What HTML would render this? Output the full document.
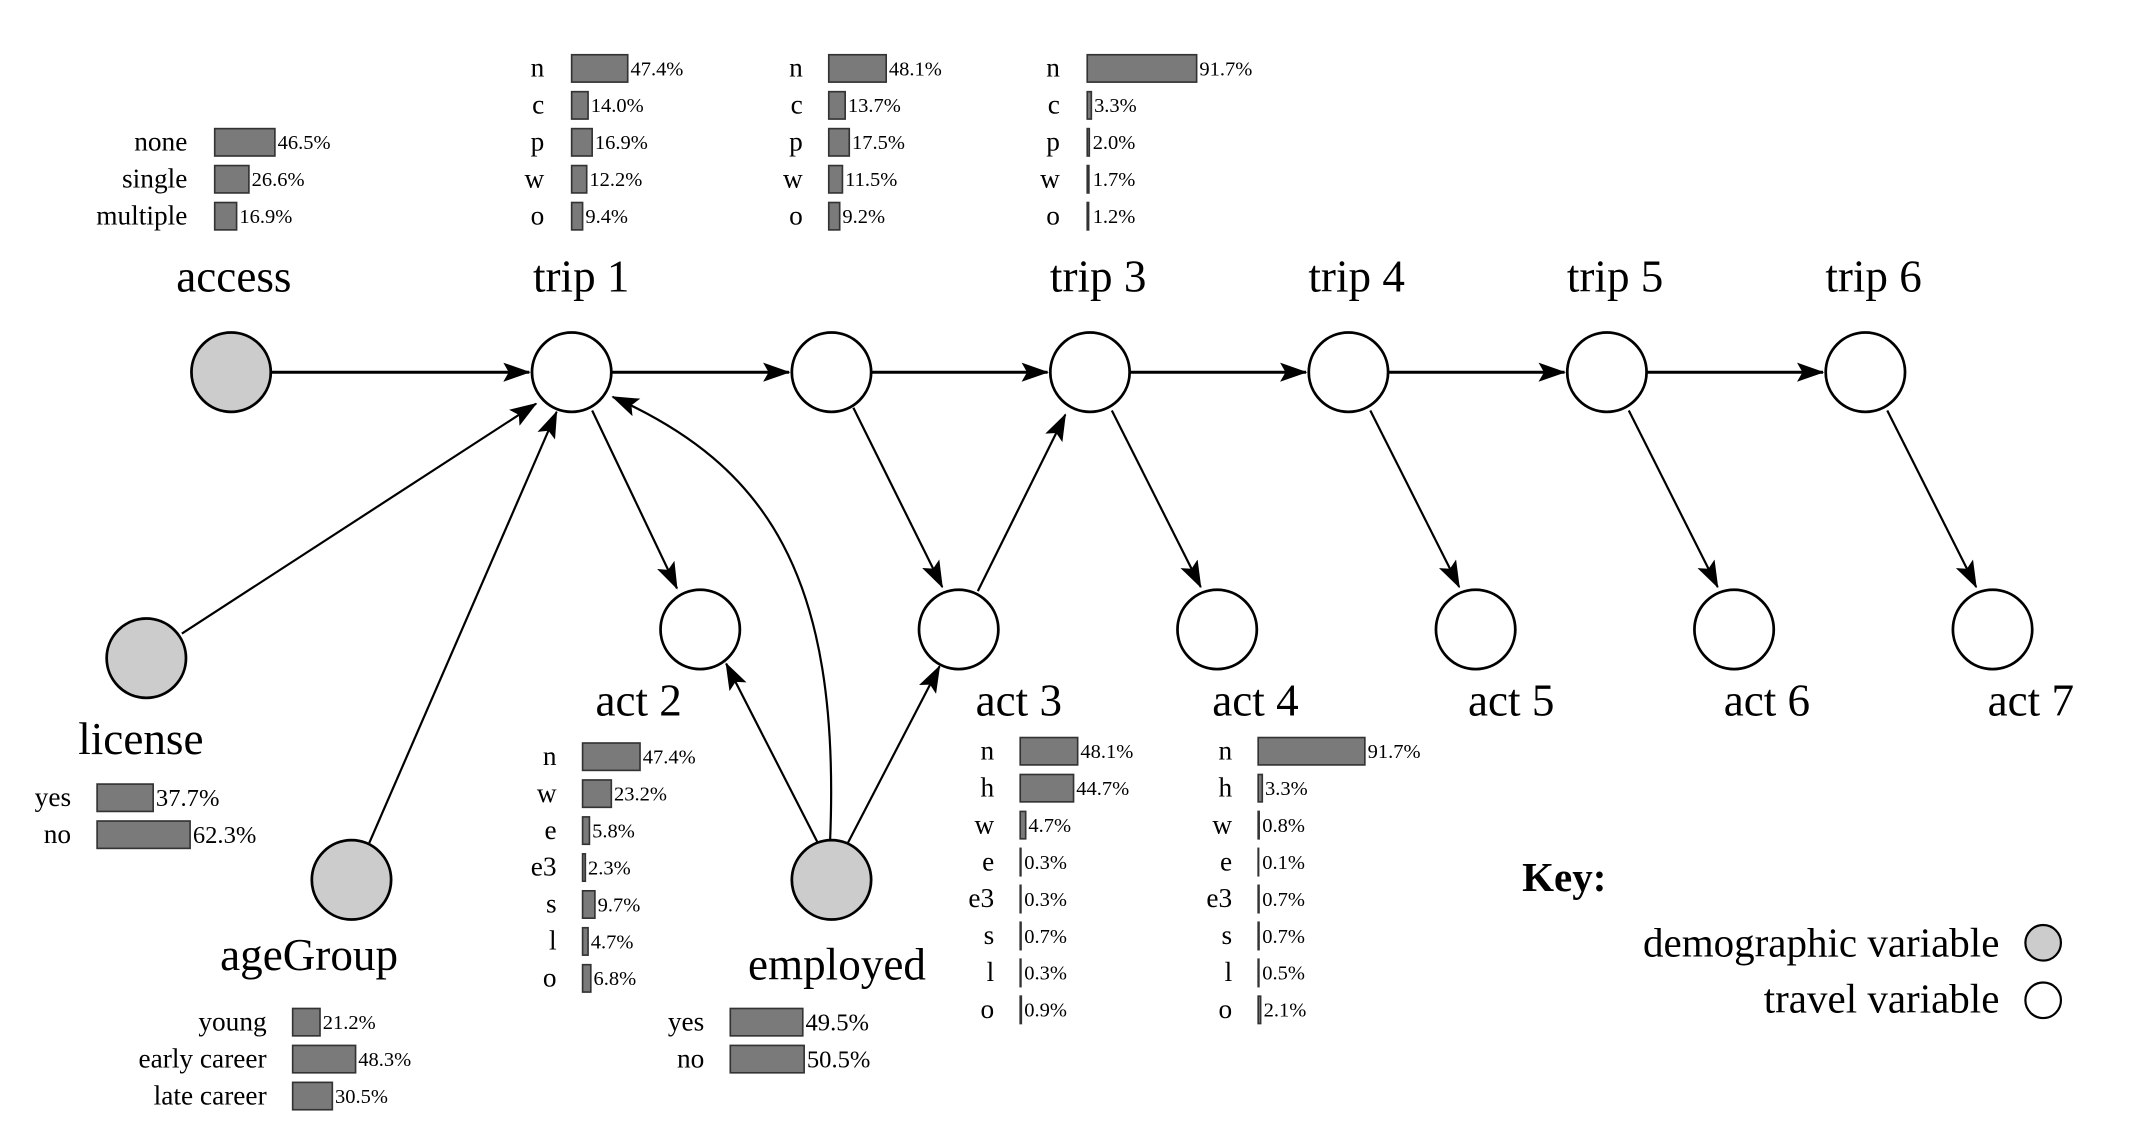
<!DOCTYPE html>
<html><head><meta charset="utf-8"><style>
html,body{margin:0;padding:0;background:#fff;}
svg{display:block;}
text{font-family:"Liberation Serif",serif;fill:#000;}
.c{font-size:20px;text-anchor:end;}
.p{font-size:15px;}
.t{font-size:33px;text-anchor:middle;}
rect.b{fill:#7a7a7a;stroke:#333;stroke-width:1.2;}
.n{fill:#fff;stroke:#000;stroke-width:2;}
.d{fill:#ccc;stroke:#000;stroke-width:2;}
.e{stroke:#000;stroke-width:1.6;fill:none;}
.h{stroke:#000;stroke-width:2.2;fill:none;}
</style></head><body>
<svg width="2143" height="1133" viewBox="0 0 1567 828" preserveAspectRatio="none" xmlns="http://www.w3.org/2000/svg">
<defs>
<marker id="a" markerWidth="20" markerHeight="14" refX="19" refY="7" orient="auto" markerUnits="userSpaceOnUse"><path d="M0,0 L20,7 L0,14 L4,7 Z" fill="#000"/></marker>
</defs>

<line class="h" x1="198" y1="272" x2="387" y2="272" marker-end="url(#a)"/>
<line class="h" x1="447" y1="272" x2="577" y2="272" marker-end="url(#a)"/>
<line class="h" x1="637" y1="272" x2="766" y2="272" marker-end="url(#a)"/>
<line class="h" x1="826" y1="272" x2="955" y2="272" marker-end="url(#a)"/>
<line class="h" x1="1015" y1="272" x2="1144" y2="272" marker-end="url(#a)"/>
<line class="h" x1="1204" y1="272" x2="1333" y2="272" marker-end="url(#a)"/>
<line class="e" x1="433" y1="300" x2="495" y2="430" marker-end="url(#a)"/>
<line class="e" x1="624" y1="298" x2="689" y2="429" marker-end="url(#a)"/>
<line class="e" x1="715" y1="432" x2="779" y2="303" marker-end="url(#a)"/>
<line class="e" x1="813" y1="300" x2="878" y2="429" marker-end="url(#a)"/>
<line class="e" x1="1002" y1="300" x2="1067" y2="429" marker-end="url(#a)"/>
<line class="e" x1="1191" y1="300" x2="1256" y2="429" marker-end="url(#a)"/>
<line class="e" x1="1380" y1="300" x2="1445" y2="429" marker-end="url(#a)"/>
<line class="e" x1="133" y1="463" x2="392" y2="295" marker-end="url(#a)"/>
<line class="e" x1="270" y1="616" x2="407" y2="301" marker-end="url(#a)"/>
<path class="e" d="M607,614 C615,420 560,340 448,290" marker-end="url(#a)"/>
<line class="e" x1="598" y1="616" x2="531" y2="485" marker-end="url(#a)"/>
<line class="e" x1="620" y1="616" x2="687" y2="487" marker-end="url(#a)"/>

<circle class="d" cx="169" cy="272" r="29"/>
<circle class="n" cx="418" cy="272" r="29"/>
<circle class="n" cx="608" cy="272" r="29"/>
<circle class="n" cx="797" cy="272" r="29"/>
<circle class="n" cx="986" cy="272" r="29"/>
<circle class="n" cx="1175" cy="272" r="29"/>
<circle class="n" cx="1364" cy="272" r="29"/>
<circle class="n" cx="512" cy="460" r="29"/>
<circle class="n" cx="701" cy="460" r="29"/>
<circle class="n" cx="890" cy="460" r="29"/>
<circle class="n" cx="1079" cy="460" r="29"/>
<circle class="n" cx="1268" cy="460" r="29"/>
<circle class="n" cx="1457" cy="460" r="29"/>
<circle class="d" cx="107" cy="481" r="29"/>
<circle class="d" cx="257" cy="643" r="29"/>
<circle class="d" cx="608" cy="643" r="29"/>

<text class="t" x="171" y="213">access</text>
<text class="t" x="425" y="213">trip 1</text>
<text class="t" x="803" y="213">trip 3</text>
<text class="t" x="992" y="213">trip 4</text>
<text class="t" x="1181" y="213">trip 5</text>
<text class="t" x="1370" y="213">trip 6</text>
<text class="t" x="467" y="523">act 2</text>
<text class="t" x="745" y="523">act 3</text>
<text class="t" x="918" y="523">act 4</text>
<text class="t" x="1105" y="523">act 5</text>
<text class="t" x="1292" y="523">act 6</text>
<text class="t" x="1485" y="523">act 7</text>
<text class="t" x="103" y="551">license</text>
<text class="t" x="226" y="709">ageGroup</text>
<text class="t" x="612" y="716">employed</text>

<text class="c" x="137" y="110">none</text><rect class="b" x="157" y="94" width="44" height="20"/><text class="p" x="203" y="109">46.5%</text>
<text class="c" x="137" y="137">single</text><rect class="b" x="157" y="121" width="25" height="20"/><text class="p" x="184" y="136">26.6%</text>
<text class="c" x="137" y="164">multiple</text><rect class="b" x="157" y="148" width="16" height="20"/><text class="p" x="175" y="163">16.9%</text>

<text class="c" x="398" y="56">n</text><rect class="b" x="418" y="40" width="41" height="20"/><text class="p" x="461" y="55">47.4%</text>
<text class="c" x="398" y="83">c</text><rect class="b" x="418" y="67" width="12" height="20"/><text class="p" x="432" y="82">14.0%</text>
<text class="c" x="398" y="110">p</text><rect class="b" x="418" y="94" width="15" height="20"/><text class="p" x="435" y="109">16.9%</text>
<text class="c" x="398" y="137">w</text><rect class="b" x="418" y="121" width="11" height="20"/><text class="p" x="431" y="136">12.2%</text>
<text class="c" x="398" y="164">o</text><rect class="b" x="418" y="148" width="8" height="20"/><text class="p" x="428" y="163">9.4%</text>

<text class="c" x="587" y="56">n</text><rect class="b" x="606" y="40" width="42" height="20"/><text class="p" x="650" y="55">48.1%</text>
<text class="c" x="587" y="83">c</text><rect class="b" x="606" y="67" width="12" height="20"/><text class="p" x="620" y="82">13.7%</text>
<text class="c" x="587" y="110">p</text><rect class="b" x="606" y="94" width="15" height="20"/><text class="p" x="623" y="109">17.5%</text>
<text class="c" x="587" y="137">w</text><rect class="b" x="606" y="121" width="10" height="20"/><text class="p" x="618" y="136">11.5%</text>
<text class="c" x="587" y="164">o</text><rect class="b" x="606" y="148" width="8" height="20"/><text class="p" x="616" y="163">9.2%</text>

<text class="c" x="775" y="56">n</text><rect class="b" x="795" y="40" width="80" height="20"/><text class="p" x="877" y="55">91.7%</text>
<text class="c" x="775" y="83">c</text><rect class="b" x="795" y="67" width="3" height="20"/><text class="p" x="800" y="82">3.3%</text>
<text class="c" x="775" y="110">p</text><rect class="b" x="795" y="94" width="1.5" height="20"/><text class="p" x="799" y="109">2.0%</text>
<text class="c" x="775" y="137">w</text><rect class="b" x="795" y="121" width="1.2" height="20"/><text class="p" x="799" y="136">1.7%</text>
<text class="c" x="775" y="164">o</text><rect class="b" x="795" y="148" width="1" height="20"/><text class="p" x="799" y="163">1.2%</text>

<text class="c" x="52" y="589">yes</text><rect class="b" x="71" y="573" width="41" height="20"/><text class="p" x="114" y="589" style="font-size:18px">37.7%</text>
<text class="c" x="52" y="616">no</text><rect class="b" x="71" y="600" width="68" height="20"/><text class="p" x="141" y="616" style="font-size:18px">62.3%</text>

<text class="c" x="407" y="559">n</text><rect class="b" x="426" y="543" width="42" height="20"/><text class="p" x="470" y="558">47.4%</text>
<text class="c" x="407" y="586">w</text><rect class="b" x="426" y="570" width="21" height="20"/><text class="p" x="449" y="585">23.2%</text>
<text class="c" x="407" y="613">e</text><rect class="b" x="426" y="597" width="5" height="20"/><text class="p" x="433" y="612">5.8%</text>
<text class="c" x="407" y="640">e3</text><rect class="b" x="426" y="624" width="2" height="20"/><text class="p" x="430" y="639">2.3%</text>
<text class="c" x="407" y="667">s</text><rect class="b" x="426" y="651" width="9" height="20"/><text class="p" x="437" y="666">9.7%</text>
<text class="c" x="407" y="694">l</text><rect class="b" x="426" y="678" width="4" height="20"/><text class="p" x="432" y="693">4.7%</text>
<text class="c" x="407" y="721">o</text><rect class="b" x="426" y="705" width="6" height="20"/><text class="p" x="434" y="720">6.8%</text>

<text class="c" x="727" y="555">n</text><rect class="b" x="746" y="539" width="42" height="20"/><text class="p" x="790" y="554">48.1%</text>
<text class="c" x="727" y="582">h</text><rect class="b" x="746" y="566" width="39" height="20"/><text class="p" x="787" y="581">44.7%</text>
<text class="c" x="727" y="609">w</text><rect class="b" x="746" y="593" width="4" height="20"/><text class="p" x="752" y="608">4.7%</text>
<text class="c" x="727" y="636">e</text><rect class="b" x="746" y="620" width="0.5" height="20"/><text class="p" x="749" y="635">0.3%</text>
<text class="c" x="727" y="663">e3</text><rect class="b" x="746" y="647" width="0.5" height="20"/><text class="p" x="749" y="662">0.3%</text>
<text class="c" x="727" y="690">s</text><rect class="b" x="746" y="674" width="0.6" height="20"/><text class="p" x="749" y="689">0.7%</text>
<text class="c" x="727" y="717">l</text><rect class="b" x="746" y="701" width="0.5" height="20"/><text class="p" x="749" y="716">0.3%</text>
<text class="c" x="727" y="744">o</text><rect class="b" x="746" y="728" width="0.8" height="20"/><text class="p" x="749" y="743">0.9%</text>

<text class="c" x="901" y="555">n</text><rect class="b" x="920" y="539" width="78" height="20"/><text class="p" x="1000" y="554">91.7%</text>
<text class="c" x="901" y="582">h</text><rect class="b" x="920" y="566" width="3" height="20"/><text class="p" x="925" y="581">3.3%</text>
<text class="c" x="901" y="609">w</text><rect class="b" x="920" y="593" width="0.7" height="20"/><text class="p" x="923" y="608">0.8%</text>
<text class="c" x="901" y="636">e</text><rect class="b" x="920" y="620" width="0.3" height="20"/><text class="p" x="923" y="635">0.1%</text>
<text class="c" x="901" y="663">e3</text><rect class="b" x="920" y="647" width="0.6" height="20"/><text class="p" x="923" y="662">0.7%</text>
<text class="c" x="901" y="690">s</text><rect class="b" x="920" y="674" width="0.6" height="20"/><text class="p" x="923" y="689">0.7%</text>
<text class="c" x="901" y="717">l</text><rect class="b" x="920" y="701" width="0.5" height="20"/><text class="p" x="923" y="716">0.5%</text>
<text class="c" x="901" y="744">o</text><rect class="b" x="920" y="728" width="1.8" height="20"/><text class="p" x="924" y="743">2.1%</text>

<text class="c" x="195" y="753">young</text><rect class="b" x="214" y="737" width="20" height="20"/><text class="p" x="236" y="752">21.2%</text>
<text class="c" x="195" y="780">early career</text><rect class="b" x="214" y="764" width="46" height="20"/><text class="p" x="262" y="779">48.3%</text>
<text class="c" x="195" y="807">late career</text><rect class="b" x="214" y="791" width="29" height="20"/><text class="p" x="245" y="806">30.5%</text>

<text class="c" x="515" y="753">yes</text><rect class="b" x="534" y="737" width="53" height="20"/><text class="p" x="589" y="753" style="font-size:18px">49.5%</text>
<text class="c" x="515" y="780">no</text><rect class="b" x="534" y="764" width="54" height="20"/><text class="p" x="590" y="780" style="font-size:18px">50.5%</text>

<text x="1113" y="651" style="font-size:30px;font-weight:bold">Key:</text>
<text x="1462" y="699" style="font-size:30px;text-anchor:end">demographic variable</text>
<circle class="d" cx="1494" cy="689" r="13" style="stroke-width:1.6"/>
<text x="1462" y="740" style="font-size:30px;text-anchor:end">travel variable</text>
<circle class="n" cx="1494" cy="731" r="13" style="stroke-width:1.6"/>
</svg>
</body></html>
